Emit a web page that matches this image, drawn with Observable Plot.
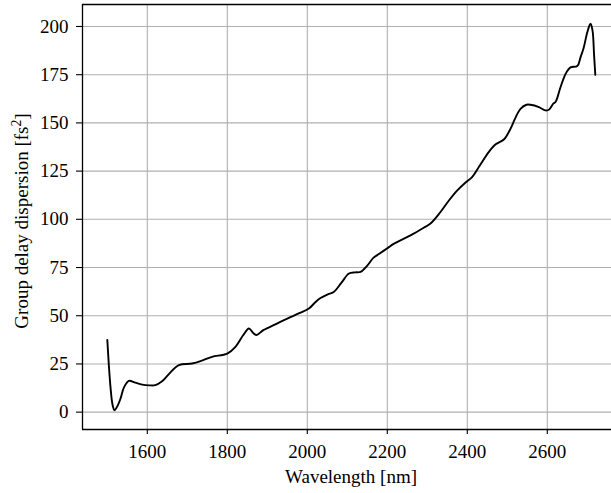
<!DOCTYPE html>
<html>
<head>
<meta charset="utf-8">
<script src="https://cdn.jsdelivr.net/npm/d3@7"></script>
<script src="https://cdn.jsdelivr.net/npm/@observablehq/plot@0.6"></script>
<style>
  html, body { margin: 0; padding: 0; background: #fff; overflow: hidden; }
  #chart svg, #chart svg text { font-family: "Liberation Serif", "Times New Roman", serif !important; font-size: 19px !important; }
</style>
</head>
<body>
<div id="chart"></div>
<script>
const wavelength = [1500,1504,1508,1513,1518,1525,1533,1542,1554,1570,1587,1605,1620,1637,1655,1679,1712,1740,1762,1800,1821,1840,1854,1865,1873,1890,1920,1950,1980,2004,2020,2033,2050,2066,2085,2104,2120,2133,2150,2165,2179,2200,2217,2258,2290,2308,2333,2355,2375,2395,2412,2430,2454,2471,2492,2508,2520,2533,2548,2558,2579,2595,2604,2615,2621,2633,2646,2658,2675,2683,2691,2700,2708,2713,2717,2720];
const gdd = [37.5,24,13,4,1,3,7,13,16.2,15.3,14.3,13.9,14,16,20,24.4,25.2,27,28.7,30.4,34,40,43.4,41,40,42.5,45.5,48.5,51.3,53.7,57,59.2,61,62.3,67,71.9,72.5,72.7,76,80,82,85,87.4,91.7,95.5,97.8,103.8,110,115,119,121.9,127.5,135,138.9,141.5,147,152.5,157.3,159.4,159.4,158.2,156.5,156.8,160,161,168.5,175.5,178.8,179.5,184,189,197,201.4,198,185,175];
const xTicks = [1600,1800,2000,2200,2400,2600];
const yTicks = [0,25,50,75,100,125,150,175,200];
const xDomain = [1438, 2760.5];
const yDomain = [-9, 211.4];
const xLabel = "Wavelength [nm]";
const yLabel = "Group delay dispersion [fs²]";

const data = wavelength.map((w, i) => ({w, v: gdd[i]}));

const plot = Plot.plot({
  width: 611,
  height: 493,
  marginLeft: 82,
  marginRight: 0,
  marginTop: 4,
  marginBottom: 64,
  style: {background: "#fff", color: "#000"},
  x: {domain: xDomain},
  y: {domain: yDomain},
  marks: [
    Plot.gridX(xTicks, {stroke: "#b0b0b0", strokeOpacity: 1, strokeWidth: 1.1}),
    Plot.gridY(yTicks, {stroke: "#b0b0b0", strokeOpacity: 1, strokeWidth: 1.1}),
    Plot.line(data, {x: "w", y: "v", stroke: "#000", strokeWidth: 1.9, curve: "catmull-rom"}),
    Plot.ruleY([yDomain[0]], {stroke: "#000", strokeWidth: 1.3}),
    Plot.ruleY([yDomain[1]], {stroke: "#000", strokeWidth: 1.3}),
    Plot.ruleX([xDomain[0]], {stroke: "#000", strokeWidth: 1.3}),
    Plot.axisX(xTicks, {tickSize: 5, tickPadding: 10, label: null, strokeWidth: 1.1, tickFormat: d => String(d)}),
    Plot.axisY(yTicks, {tickSize: 6, tickPadding: 8, label: null, strokeWidth: 1.1, tickFormat: d => String(d)}),
    Plot.text([xLabel], {frameAnchor: "bottom", dx: 4, dy: 47, text: d => d, textAnchor: "middle", lineAnchor: "middle", fill: "#000"}),
    Plot.text([yLabel], {frameAnchor: "left", dx: -61, dy: 4, rotate: -90, text: d => d, textAnchor: "middle", lineAnchor: "middle", fill: "#000"})
  ]
});
document.getElementById("chart").appendChild(plot);

// render the superscript like mathtext
d3.select(plot).selectAll("text").each(function() {
  const t = this.textContent;
  if (t === yLabel) {
    const sel = d3.select(this);
    sel.text(null);
    sel.append("tspan").text("Group delay dispersion [fs");
    sel.append("tspan").attr("font-size", "0.72em").attr("dy", "-0.45em").text("2");
    sel.append("tspan").attr("dy", "0.32em").text("]");
  }
});
</script>
</body>
</html>
